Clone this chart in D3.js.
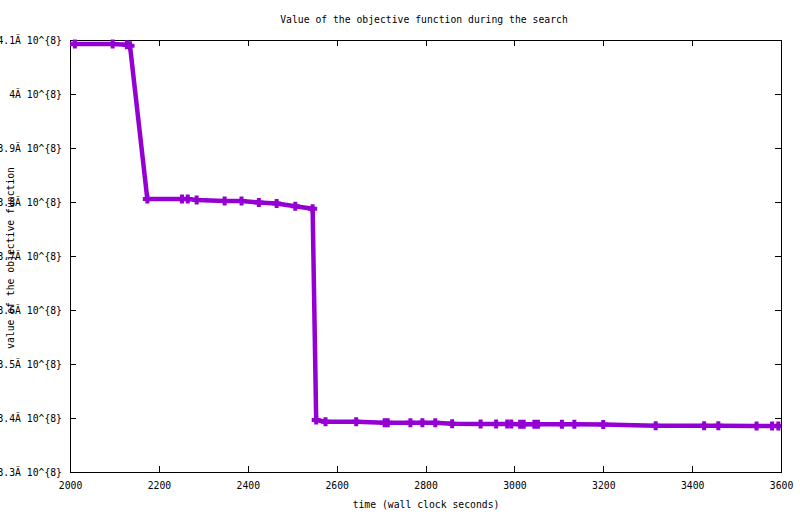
<!DOCTYPE html>
<html>
<head>
  <meta charset="utf-8" />
  <script src="https://d3js.org/d3.v7.min.js"></script>
  <style>
    body { margin: 0; background: #fff; }
    svg { display: block; }
    text { font-family: "DejaVu Sans Mono", monospace; font-size: 9.75px; fill: #000; }
  </style>
</head>
<body>
  <svg id="chart" width="800" height="514"></svg>
  <script>
    // wall clock seconds at each improvement
    const times = [1990, 2011, 2096, 2128, 2135, 2174, 2252, 2265, 2285, 2348, 2386, 2425, 2465, 2507, 2546,
      2554, 2575, 2644, 2708, 2715, 2766, 2793, 2822, 2860, 2924, 2959, 2984, 2993, 3013, 3021,
      3045, 3053, 3107, 3135, 3200, 3318, 3427, 3459, 3545, 3580, 3594];
    // objective function value
    const values = [409260000, 409260000, 409260000, 409100000, 408940000, 380560000, 380560000, 380560000, 380370000,
      380190000, 380190000, 379910000, 379720000, 379220000, 378760000,
      339630000, 339320000, 339320000, 339130000, 339130000, 339130000, 339130000, 339130000, 338940000,
      338890000, 338890000, 338890000, 338890000, 338860000, 338860000, 338830000, 338830000, 338830000,
      338830000, 338800000, 338570000, 338570000, 338570000, 338520000, 338520000, 338520000];

    const xTicks = [2000, 2200, 2400, 2600, 2800, 3000, 3200, 3400, 3600];
    const yTicks = [330000000, 340000000, 350000000, 360000000, 370000000, 380000000, 390000000, 400000000, 410000000];
    const yTickLabels = ["3.3Ã 10^{8}", "3.4Ã 10^{8}", "3.5Ã 10^{8}", "3.6Ã 10^{8}", "3.7Ã 10^{8}",
      "3.8Ã 10^{8}", "3.9Ã 10^{8}", "4Ã 10^{8}", "4.1Ã 10^{8}"];

    const title = "Value of the objective function during the search";
    const xTitle = "time (wall clock seconds)";
    const yTitle = "value of the objective function";

    const M = { left: 70, right: 781, top: 40, bottom: 472 };
    const svg = d3.select("#chart");

    const x = d3.scaleLinear().domain([2000, 3600]).range([M.left, M.right]);
    const y = d3.scaleLinear().domain([330000000, 410000000]).range([M.bottom, M.top]);

    const pts = times.map((t, i) => ({ t, v: values[i] }));

    svg.append("clipPath").attr("id", "clip")
      .append("rect").attr("x", M.left).attr("y", M.top - 10)
      .attr("width", M.right - M.left).attr("height", M.bottom - M.top + 10);

    // axes, ticks inward and mirrored
    const tickLen = 6;
    const gAx = svg.append("g");
    gAx.append("g").attr("transform", `translate(0,${M.bottom})`)
      .call(d3.axisBottom(x).tickValues(xTicks).tickSizeInner(-tickLen).tickSizeOuter(0).tickPadding(10).tickFormat(d3.format("d")));
    gAx.append("g").attr("transform", `translate(0,${M.top})`)
      .call(d3.axisTop(x).tickValues(xTicks).tickSizeInner(-tickLen).tickSizeOuter(0).tickFormat(""));
    gAx.append("g").attr("transform", `translate(${M.left},0)`)
      .call(d3.axisLeft(y).tickValues(yTicks).tickSizeInner(-tickLen).tickSizeOuter(0).tickPadding(8)
        .tickFormat((d, i) => yTickLabels[i]));
    gAx.append("g").attr("transform", `translate(${M.right},0)`)
      .call(d3.axisRight(y).tickValues(yTicks).tickSizeInner(-tickLen).tickSizeOuter(0).tickFormat(""));
    gAx.selectAll(".domain").remove();
    gAx.selectAll(".tick line").attr("stroke", "#000").attr("shape-rendering", "crispEdges");
    gAx.selectAll(".tick text").attr("font-family", "DejaVu Sans Mono").attr("font-size", "9.75px");

    svg.append("rect")
      .attr("x", M.left + 0.5).attr("y", M.top + 0.5)
      .attr("width", M.right - M.left).attr("height", M.bottom - M.top)
      .attr("fill", "none").attr("stroke", "#000").attr("shape-rendering", "crispEdges");

    // series
    const gData = svg.append("g").attr("clip-path", "url(#clip)");
    const line = d3.line().x(d => x(d.t)).y(d => y(d.v));
    gData.append("path")
      .datum(pts)
      .attr("d", line)
      .attr("fill", "none")
      .attr("stroke", "#9400d3")
      .attr("stroke-width", 4.5)
      .attr("stroke-linejoin", "round");

    const s = 4.5;
    gData.selectAll("path.pt")
      .data(pts.filter(d => d.t >= 2000))
      .join("path")
      .attr("class", "pt")
      .attr("d", d => `M${x(d.t) - s},${y(d.v)}H${x(d.t) + s}M${x(d.t)},${y(d.v) - s}V${y(d.v) + s}`)
      .attr("stroke", "#9400d3")
      .attr("stroke-width", 4)
      .attr("fill", "none");

    // titles
    svg.append("text").attr("x", 424).attr("y", 23).attr("text-anchor", "middle").text(title);
    svg.append("text").attr("x", 426).attr("y", 508).attr("text-anchor", "middle").text(xTitle);
    svg.append("text")
      .attr("transform", "translate(14,258) rotate(-90)")
      .attr("text-anchor", "middle")
      .text(yTitle);
  </script>
</body>
</html>
